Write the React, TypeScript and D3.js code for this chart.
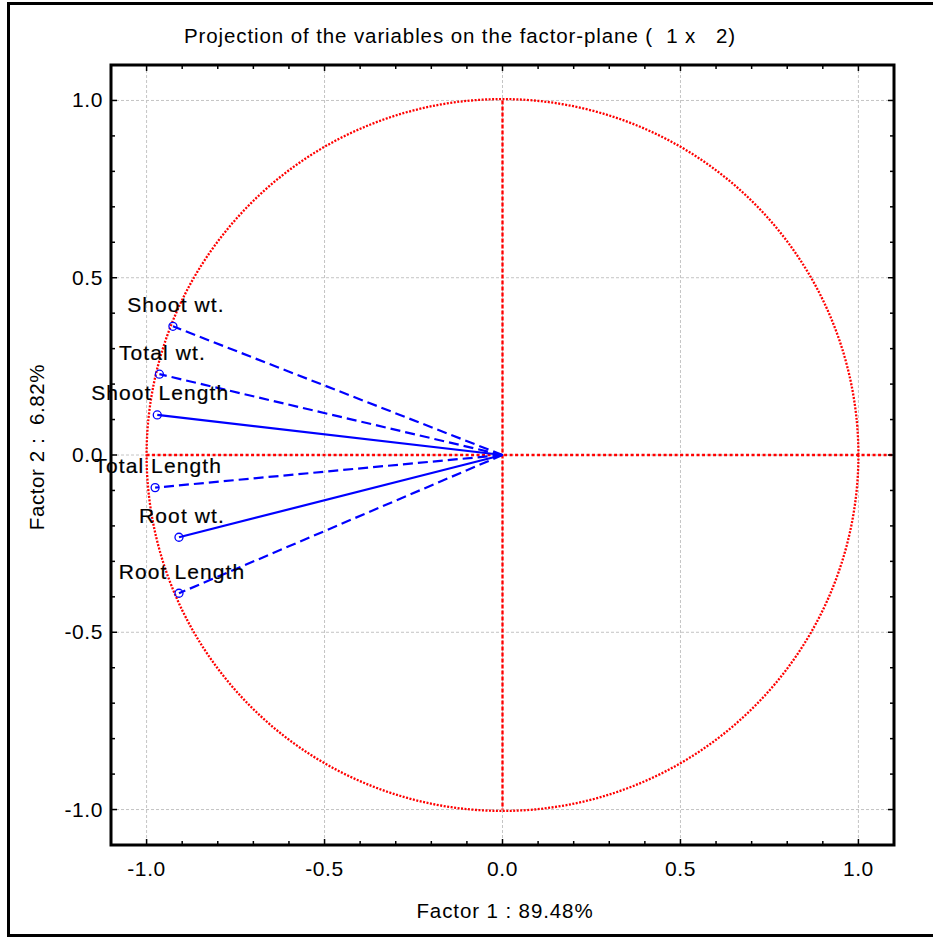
import { useRef, useEffect } from 'react';
import * as d3 from 'd3';

/* ── Factor loadings ───────────────────────────────────────────── */
const VARIABLES = ["Shoot wt.", "Total wt.", "Shoot Length", "Total Length", "Root wt.", "Root Length"];
const FACTOR1 = [-0.926, -0.964, -0.970, -0.976, -0.909, -0.909];
const FACTOR2 = [0.363, 0.228, 0.113, -0.092, -0.232, -0.390];
const DASHED = [true, true, false, true, false, true];

const TICKS = [-1.0, -0.5, 0.0, 0.5, 1.0];
const MINOR_TICKS = d3.range(-11, 12).map(d => d / 10);

const TITLE = "Projection of the variables on the factor-plane (  1 x   2)";
const X_LABEL = "Factor 1 : 89.48%";
const Y_LABEL = "Factor 2 :  6.82%";

const FONT = "'Liberation Sans', Arial, sans-serif";

function App() {
  const svgRef = useRef<SVGSVGElement>(null);

  useEffect(() => {
    document.body.style.margin = "0";
    const svg = d3.select(svgRef.current);
    svg.selectAll("*").remove();

    const W = 933, H = 938;
    const left = 111, right = 894, top = 65, bottom = 845;

    const x = d3.scaleLinear().domain([-1.1, 1.1]).range([left, right]);
    const y = d3.scaleLinear().domain([-1.1, 1.1]).range([bottom, top]);

    svg.attr("width", W).attr("height", H);

    svg.append("rect")
      .attr("width", W).attr("height", H).attr("fill", "#fff");

    // outer frame (right edge falls off the picture)
    svg.append("rect")
      .attr("x", 8.5).attr("y", 3.5)
      .attr("width", 940).attr("height", 932)
      .attr("fill", "none").attr("stroke", "#000").attr("stroke-width", 3);

    // title
    svg.append("text")
      .attr("x", 460).attr("y", 43)
      .attr("text-anchor", "middle")
      .style("white-space", "pre")
      .style("font-family", FONT).style("font-size", "20.5px")
      .style("letter-spacing", "0.9px")
      .text(TITLE);

    // grid
    const grid = svg.append("g")
      .attr("stroke", "#c4c4c4").attr("stroke-width", 1)
      .attr("stroke-dasharray", "3 2");
    TICKS.forEach(t => {
      grid.append("line").attr("x1", x(t)).attr("x2", x(t)).attr("y1", top).attr("y2", bottom);
      grid.append("line").attr("y1", y(t)).attr("y2", y(t)).attr("x1", left).attr("x2", right);
    });

    // red reference circle and axes
    const red = svg.append("g").attr("fill", "none").attr("stroke", "#ff0000").attr("stroke-width", 2.3);
    red.append("circle")
      .attr("cx", x(0)).attr("cy", y(0)).attr("r", x(1) - x(0))
      .attr("stroke-dasharray", "2 1.5");
    red.append("line")
      .attr("x1", x(-1)).attr("x2", x(1.1)).attr("y1", y(0)).attr("y2", y(0))
      .attr("stroke-dasharray", "3 2.5");
    red.append("line")
      .attr("x1", x(0)).attr("x2", x(0)).attr("y1", y(1)).attr("y2", y(-1))
      .attr("stroke-dasharray", "4 2");

    // variable vectors
    const line = d3.line<[number, number]>().x(d => x(d[0])).y(d => y(d[1]));
    const vectors = svg.append("g");
    VARIABLES.forEach((name, i) => {
      vectors.append("path")
        .attr("d", line([[0, 0], [FACTOR1[i], FACTOR2[i]]]))
        .attr("fill", "none").attr("stroke", "#0000ff").attr("stroke-width", 2.2)
        .attr("stroke-dasharray", DASHED[i] ? "10 5" : null);
      vectors.append("circle")
        .attr("cx", x(FACTOR1[i])).attr("cy", y(FACTOR2[i])).attr("r", 4)
        .attr("fill", "none").attr("stroke", "#0000ff").attr("stroke-width", 1.3);
      vectors.append("text")
        .attr("x", x(FACTOR1[i]) + 3).attr("y", y(FACTOR2[i]) - 14.5)
        .attr("text-anchor", "middle")
        .style("font-family", FONT).style("font-size", "21px")
        .style("letter-spacing", "1.1px")
        .attr("stroke", "#000").attr("stroke-width", 0.2)
        .text(name);
    });

    // plot frame
    svg.append("rect")
      .attr("x", left).attr("y", top)
      .attr("width", right - left).attr("height", bottom - top)
      .attr("fill", "none").attr("stroke", "#000").attr("stroke-width", 3);

    // inward ticks on all four sides
    const ticks = svg.append("g").attr("stroke", "#000").attr("stroke-width", 1.5);
    MINOR_TICKS.forEach(t => {
      const len = Math.abs(Math.round(t * 10)) % 5 === 0 ? 6 : 4;
      ticks.append("line").attr("x1", x(t)).attr("x2", x(t)).attr("y1", bottom).attr("y2", bottom - len);
      ticks.append("line").attr("x1", x(t)).attr("x2", x(t)).attr("y1", top).attr("y2", top + len);
      ticks.append("line").attr("y1", y(t)).attr("y2", y(t)).attr("x1", left).attr("x2", left + len);
      ticks.append("line").attr("y1", y(t)).attr("y2", y(t)).attr("x1", right).attr("x2", right - len);
    });

    // tick labels (plain hyphen minus, as in the original)
    const fmt = (v: number) => d3.format(".1f")(v).replace("\u2212", "-");
    TICKS.forEach(t => {
      svg.append("text")
        .attr("x", x(t)).attr("y", 876)
        .attr("text-anchor", "middle")
        .style("font-family", FONT).style("font-size", "21px")
        .style("letter-spacing", "0.6px")
        .text(fmt(t));
      svg.append("text")
        .attr("x", 103).attr("y", y(t) + 7)
        .attr("text-anchor", "end")
        .style("font-family", FONT).style("font-size", "21px")
        .style("letter-spacing", "0.6px")
        .text(fmt(t));
    });

    // axis titles
    svg.append("text")
      .attr("x", 505).attr("y", 918)
      .attr("text-anchor", "middle")
      .style("font-family", FONT).style("font-size", "20.5px")
      .style("letter-spacing", "0.9px")
      .text(X_LABEL);

    svg.append("text")
      .attr("transform", `translate(44,447) rotate(-90)`)
      .attr("text-anchor", "middle")
      .style("white-space", "pre")
      .style("font-family", FONT).style("font-size", "20.5px")
      .style("letter-spacing", "0.6px")
      .text(Y_LABEL);
  }, []);

  return <svg ref={svgRef} style={{ display: "block" }}></svg>;
}

export default App;
